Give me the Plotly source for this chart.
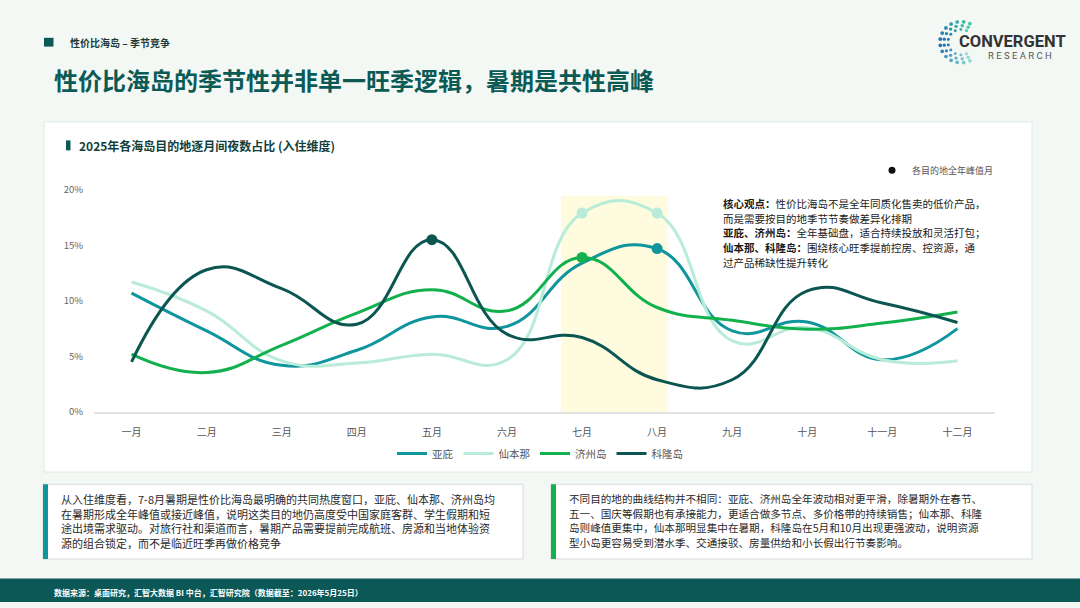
import math
import plotly.graph_objects as go

# ---------------- data ----------------
months = ["一月", "二月", "三月", "四月", "五月", "六月",
          "七月", "八月", "九月", "十月", "十一月", "十二月"]
yabi = [10.7, 7.3, 4.2, 5.55, 8.55, 7.7, 13.4, 14.7, 7.3, 8.1, 4.7, 7.5]
xianbenna = [11.7, 9.1, 4.6, 4.4, 5.2, 4.7, 17.9, 17.9, 6.4, 7.6, 4.7, 4.6]
jeju = [5.2, 3.55, 6.0, 8.9, 11.0, 9.1, 13.9, 9.4, 8.25, 7.45, 8.0, 9.0]
coron = [4.5, 12.8, 11.1, 7.9, 15.5, 7.0, 6.7, 2.9, 2.9, 10.9, 9.8, 8.05]
series_names = ["亚庇", "仙本那", "济州岛", "科隆岛"]
series_values = [yabi, xianbenna, jeju, coron]
y_tick_vals = [0, 5, 10, 15, 20]
y_tick_text = ["0%", "5%", "10%", "15%", "20%"]
summer_months = ["七月", "八月"]
peak_legend_name = "各目的地全年峰值月"

# ---------------- style ----------------
W, H = 1080, 608
FONT = "Noto Sans CJK SC, Microsoft YaHei, sans-serif"
colors = ["#0f959c", "#b8ebd8", "#12b14e", "#0c5652"]
DARK = "#0c5a55"


def X(px):
    return px / W


def Y(py):
    return 1 - py / H


fig = go.Figure()

for name, vals, col in zip(series_names, series_values, colors):
    fig.add_trace(go.Scatter(
        x=months, y=vals, name=name, mode="lines",
        line=dict(color=col, width=3, shape="spline", smoothing=1.3),
        hoverinfo="skip", legend="legend"))

# peak markers
for name, vals, col in zip(series_names, series_values, colors):
    mx = max(vals)
    px_ = [m for m, v in zip(months, vals) if v == mx]
    py_ = [v for v in vals if v == mx]
    fig.add_trace(go.Scatter(
        x=px_, y=py_, mode="markers", showlegend=False,
        marker=dict(color=col, size=11, line=dict(width=0)),
        hoverinfo="skip"))

# peak legend entry
fig.add_trace(go.Scatter(
    x=[None], y=[None], mode="markers", name=peak_legend_name,
    marker=dict(color="#111111", size=7), legend="legend2"))

shapes = []
# chart card
shapes.append(dict(type="rect", xref="paper", yref="paper", layer="below",
                   x0=X(44), x1=X(1032), y0=Y(475), y1=Y(116.5),
                   fillcolor="white", line=dict(color="#dcece3", width=1)))
# summer highlight band
i7 = months.index(summer_months[0])
i8 = months.index(summer_months[1])
shapes.append(dict(type="rect", xref="x", yref="y", layer="below",
                   x0=i7 - 0.28, x1=i8 + 0.14, y0=0, y1=19.45,
                   fillcolor="#fefbdf", line=dict(width=0)))
# header square
shapes.append(dict(type="rect", xref="paper", yref="paper",
                   x0=X(44), x1=X(53.5), y0=Y(39.5), y1=Y(30.5),
                   fillcolor=DARK, line=dict(width=0)))
# chart title bar
shapes.append(dict(type="rect", xref="paper", yref="paper",
                   x0=X(66), x1=X(70.5), y0=Y(145.7), y1=Y(135.5),
                   fillcolor=DARK, line=dict(width=0)))
# bottom boxes
for x0, x1, bar in [(43, 523, "#0f959c"), (551, 1032, "#12b14e")]:
    shapes.append(dict(type="rect", xref="paper", yref="paper",
                       x0=X(x0), x1=X(x1), y0=Y(564), y1=Y(487.5),
                       fillcolor="white", line=dict(color="#dadada", width=1)))
    shapes.append(dict(type="rect", xref="paper", yref="paper",
                       x0=X(x0), x1=X(x0 + 5), y0=Y(564), y1=Y(487.5),
                       fillcolor=bar, line=dict(width=0)))
# footer
shapes.append(dict(type="rect", xref="paper", yref="paper",
                   x0=0, x1=1, y0=0, y1=Y(584),
                   fillcolor="#0b5856", line=dict(width=0)))

# logo dots (decoration)
cx, cy = 961, 35
rings = [(21, 1.9, 14), (17, 1.7, 12), (13, 1.5, 10)]


def mix(c1, c2, t):
    a = [int(c1[i:i + 2], 16) for i in (1, 3, 5)]
    b = [int(c2[i:i + 2], 16) for i in (1, 3, 5)]
    return "#" + "".join("%02x" % int(round(a[k] + (b[k] - a[k]) * t)) for k in range(3))


for r, s, n in rings:
    for k in range(n):
        t = k / (n - 1)
        ang = math.radians(65 + 230 * t)
        dx = cx + r * math.cos(ang)
        dy = cy - r * math.sin(ang)
        if t < 0.5:
            col = mix("#43c9a2", "#1f67b0", t / 0.5)
        else:
            col = mix("#1f67b0", "#8edbd2", (t - 0.5) / 0.5)
        shapes.append(dict(type="circle", xref="paper", yref="paper",
                           x0=X(dx - s), x1=X(dx + s), y0=Y(dy + s), y1=Y(dy - s),
                           fillcolor=col, line=dict(width=0)))

annotations = []


def txt(x, y, text, size, color="#222222", anchor="left", bold=False, family=FONT):
    if bold:
        text = "<b>" + text + "</b>"
    annotations.append(dict(xref="paper", yref="paper", x=X(x), y=Y(y),
                            xanchor=anchor, yanchor="middle", showarrow=False,
                            text=text, font=dict(size=size, color=color, family=family)))


txt(68, 35.5, "性价比海岛 – 季节竞争", 10, "#1d3b39", bold=True)
txt(51.5, 73, "性价比海岛的季节性并非单一旺季逻辑，暑期是共性高峰", 24, DARK, bold=True)
txt(957, 34, "CONVERGENT", 16.5, "#333333", bold=True, family="Roboto, Arial, sans-serif")
txt(986, 49, "R E S E A R C H", 9.5, "#555555", family="Roboto, Arial, sans-serif")
txt(77, 141, "2025年各海岛目的地逐月间夜数占比 (入住维度)", 12, "#123f3c", bold=True)

core_lines = [
    "<b>核心观点：</b>性价比海岛不是全年同质化售卖的低价产品，",
    "而是需要按目的地季节节奏做差异化排期",
    "<b>亚庇、济州岛：</b>全年基础盘，适合持续投放和灵活打包；",
    "<b>仙本那、科隆岛：</b>围绕核心旺季提前控房、控资源，通",
    "过产品稀缺性提升转化",
]
for i, line in enumerate(core_lines):
    txt(721, 200 + 15 * i, line, 10.5, "#1a1a1a")

left_lines = [
    "从入住维度看，7-8月暑期是性价比海岛最明确的共同热度窗口，亚庇、仙本那、济州岛均",
    "在暑期形成全年峰值或接近峰值，说明这类目的地仍高度受中国家庭客群、学生假期和短",
    "途出境需求驱动。对旅行社和渠道而言，暑期产品需要提前完成航班、房源和当地体验资",
    "源的组合锁定，而不是临近旺季再做价格竞争",
]
right_lines = [
    "不同目的地的曲线结构并不相同：亚庇、济州岛全年波动相对更平滑，除暑期外在春节、",
    "五一、国庆等假期也有承接能力，更适合做多节点、多价格带的持续销售；仙本那、科隆",
    "岛则峰值更集中，仙本那明显集中在暑期，科隆岛在5月和10月出现更强波动，说明资源",
    "型小岛更容易受到潜水季、交通接驳、房量供给和小长假出行节奏影响。",
]
for i, line in enumerate(left_lines):
    txt(59, 503 + 14.8 * i, line, 11, "#2a2a2a")
for i, line in enumerate(right_lines):
    txt(567, 502 + 15.0 * i, line, 10.6, "#2a2a2a")

txt(52, 598, "数据来源：桌面研究，汇智大数据 BI 中台，汇智研究院（数据截至：2026年5月25日）",
    8, "#ffffff", bold=True)

fig.update_layout(
    width=W, height=H, autosize=False,
    margin=dict(l=0, r=0, t=0, b=0),
    paper_bgcolor="#f4f8f5", plot_bgcolor="rgba(0,0,0,0)",
    font=dict(family=FONT, color="#555555"),
    shapes=shapes, annotations=annotations,
    xaxis=dict(domain=[X(94), X(995)], type="category", range=[-0.5, 11.5],
               showgrid=False, zeroline=False, showline=True, linecolor="#e3e3e3",
               linewidth=1.5, ticks="", ticklabelstandoff=10,
               tickfont=dict(size=10, color="#555555"), fixedrange=True),
    yaxis=dict(domain=[Y(413.5), Y(186)], range=[0, 20], tickvals=y_tick_vals,
               ticktext=y_tick_text, showgrid=False, zeroline=False, showline=False,
               ticks="", ticklabelstandoff=10,
               tickfont=dict(size=9.5, color="#666666"), fixedrange=True),
    legend=dict(orientation="h", x=0.5, xanchor="center", y=Y(456), yanchor="middle",
                font=dict(size=10.5, color="#555555"), bgcolor="rgba(0,0,0,0)",
                itemwidth=30, traceorder="normal"),
    legend2=dict(orientation="h", x=X(872), xanchor="left", y=Y(166), yanchor="middle",
                 font=dict(size=9, color="#555555"), bgcolor="rgba(0,0,0,0)"),
    showlegend=True,
)

fig.write_html(
    "out.html",
    config={"displayModeBar": False},
    post_script="document.body.style.margin='0px';document.body.style.overflow='hidden';",
)
